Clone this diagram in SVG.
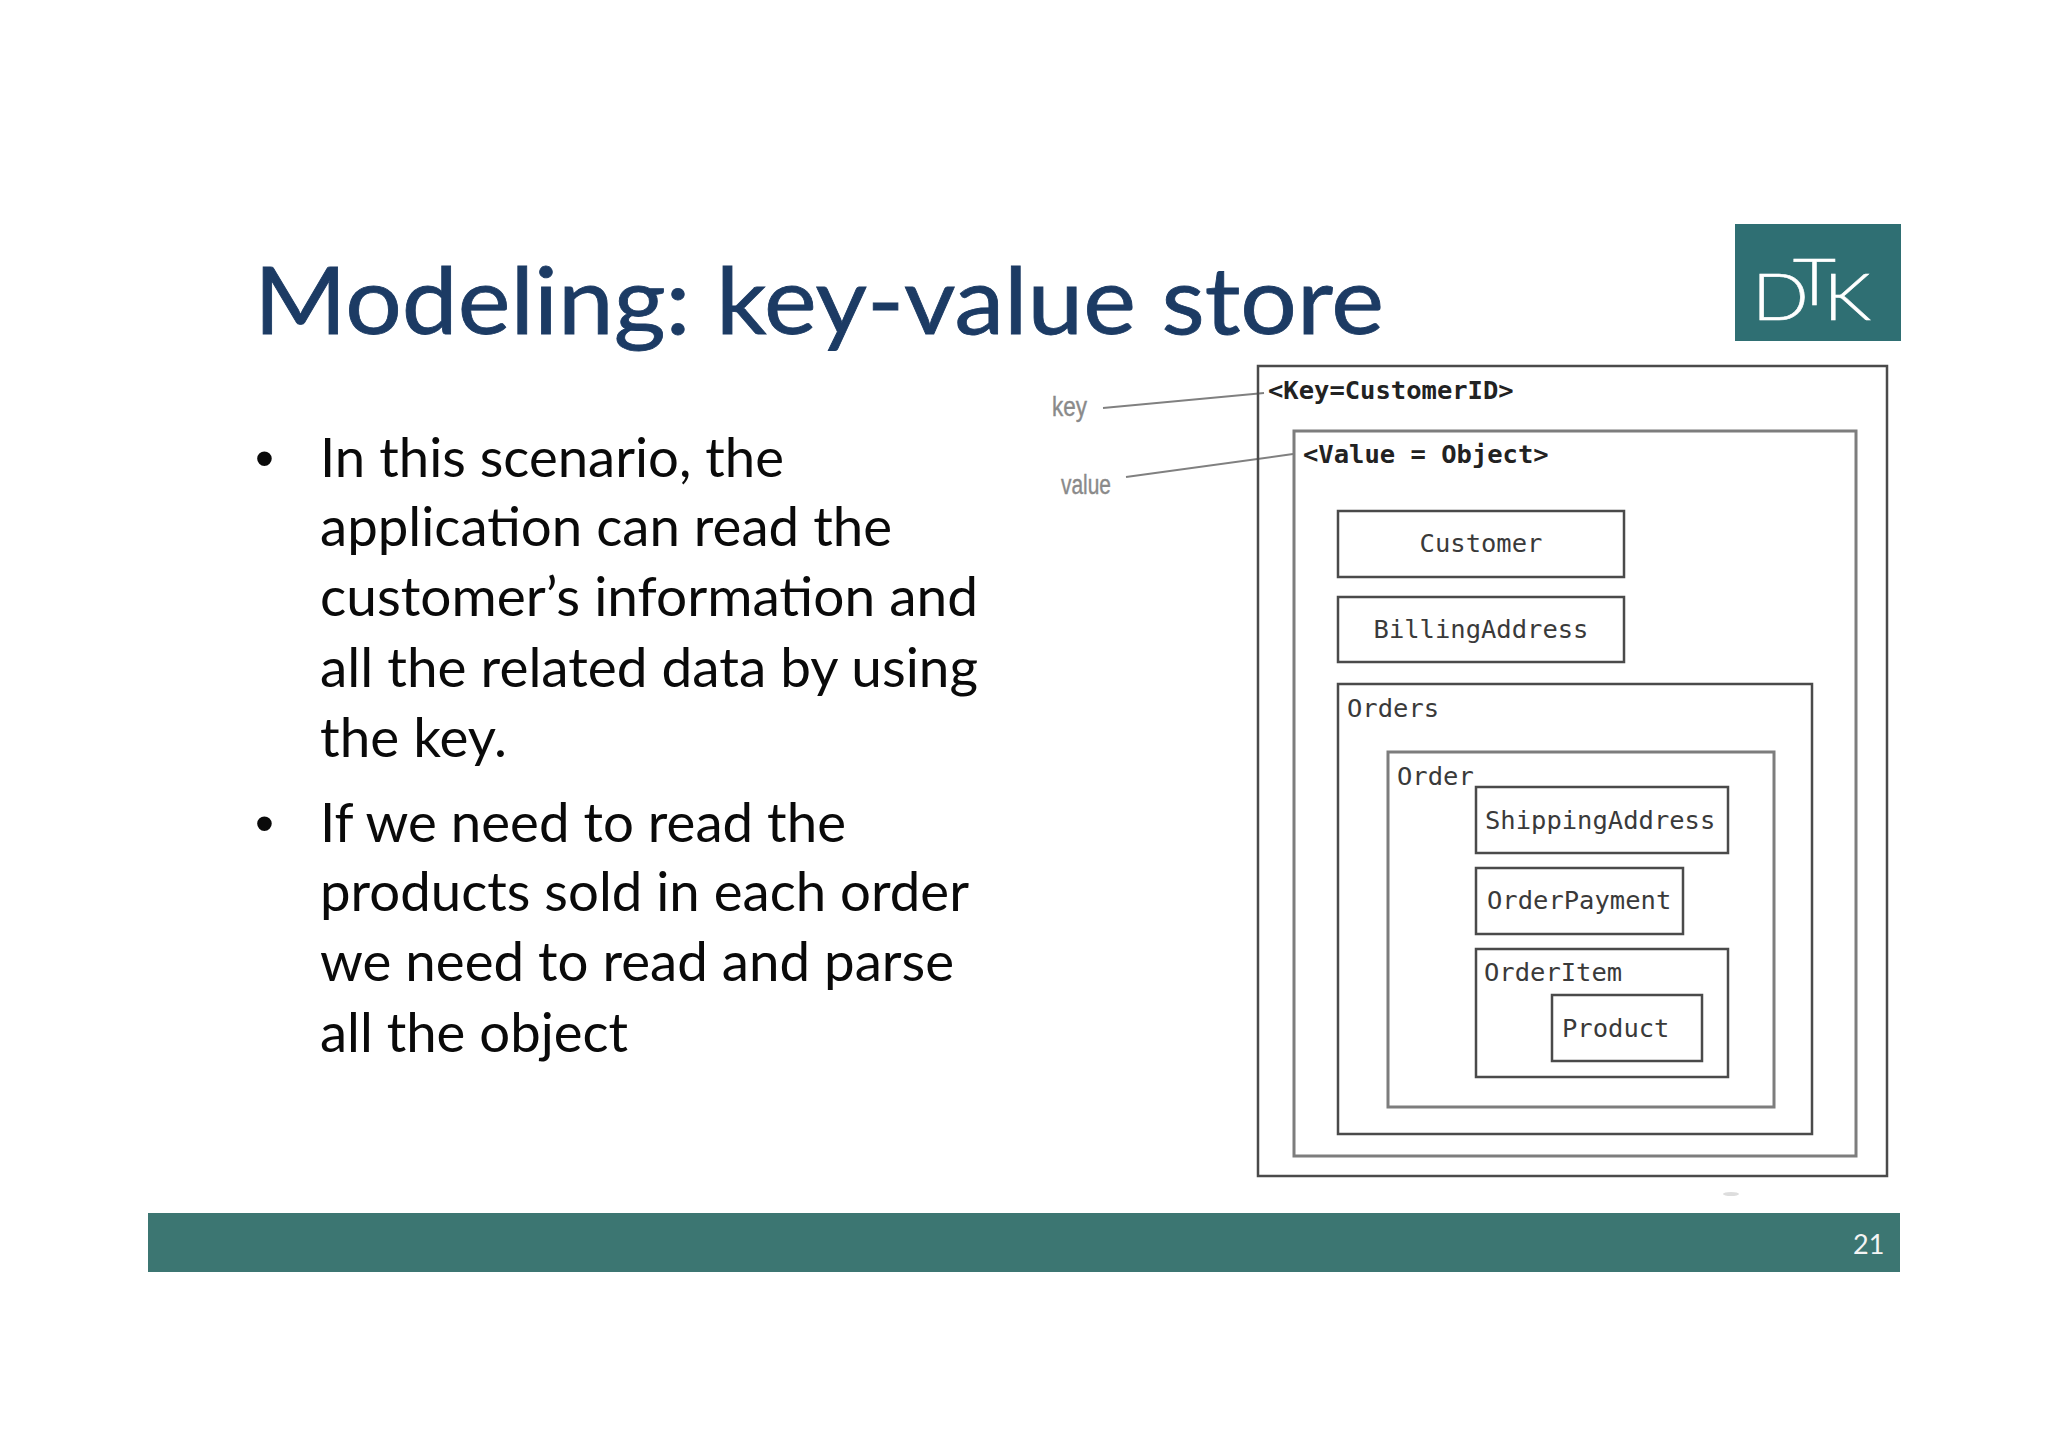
<svg xmlns="http://www.w3.org/2000/svg" width="2048" height="1447" viewBox="0 0 2048 1447">
<style>
.title{font-family:"Lato","Liberation Sans",sans-serif;font-size:93px;fill:#1c3b64;stroke:#1c3b64;stroke-width:.8}
.body{font-family:"Lato","Liberation Sans",sans-serif;font-size:54px;fill:#0a0a0a}
.bullet{font-family:"Liberation Sans",sans-serif;font-size:54px;fill:#0a0a0a}
.mono{font-family:"DejaVu Sans Mono","Liberation Mono",monospace;font-size:25.5px;fill:#3a3a3a}
.bold{font-weight:700;fill:#222}
.box{fill:none;stroke:#4a4a4a;stroke-width:2.5}
.soft{fill:none;stroke:#7d7d7d;stroke-width:3}
.lead{fill:none;stroke:#808080;stroke-width:2}
.note{font-family:"Liberation Sans",sans-serif;font-size:27px;fill:#8a8a8a;stroke:#8a8a8a;stroke-width:.4}
.logo{font-family:"Lato","Liberation Sans",sans-serif;font-weight:300;font-size:65px;fill:#fff;stroke:#fff;stroke-width:.5}
</style>
<rect width="2048" height="1447" fill="#fff"/>
<text id="title" class="title" x="254" y="334" textLength="1130" lengthAdjust="spacingAndGlyphs">Modeling: key-value store</text>
<g id="logo">
<rect x="1735" y="224" width="166" height="117" fill="#2f6f73"/>
<text class="logo" transform="scale(1.15 1)" x="1523.5 1559 1585.7" y="320 305 320">DTK</text>
</g>
<g id="bullets">
<text class="bullet" x="255" y="477">•</text>
<text class="body" x="320" y="477" textLength="464" lengthAdjust="spacingAndGlyphs">In this scenario, the</text>
<text class="body" x="320" y="546" textLength="572" lengthAdjust="spacingAndGlyphs">application can read the</text>
<text class="body" x="320" y="616" textLength="658" lengthAdjust="spacingAndGlyphs">customer’s information and</text>
<text class="body" x="320" y="687" textLength="658" lengthAdjust="spacingAndGlyphs">all the related data by using</text>
<text class="body" x="320" y="757" textLength="187" lengthAdjust="spacingAndGlyphs">the key.</text>
<text class="bullet" x="255" y="842">•</text>
<text class="body" x="320" y="842" textLength="526" lengthAdjust="spacingAndGlyphs">If we need to read the</text>
<text class="body" x="320" y="911" textLength="649" lengthAdjust="spacingAndGlyphs">products sold in each order</text>
<text class="body" x="320" y="981" textLength="634" lengthAdjust="spacingAndGlyphs">we need to read and parse</text>
<text class="body" x="320" y="1052" textLength="308" lengthAdjust="spacingAndGlyphs">all the object</text>
</g>
<g id="connectors">
<line class="lead" x1="1103" y1="408" x2="1264" y2="393"/>
<line class="lead" x1="1126" y1="477" x2="1293" y2="454"/>
</g>
<g id="key-label"><text class="note" x="1052" y="416" textLength="35" lengthAdjust="spacingAndGlyphs">key</text></g>
<g id="value-label"><text class="note" x="1061" y="494" textLength="50" lengthAdjust="spacingAndGlyphs">value</text></g>
<g id="key-box"><rect class="box" x="1258" y="366" width="629" height="810"/><text class="mono bold" x="1268" y="399">&lt;Key=CustomerID&gt;</text></g>
<g id="value-box"><rect class="soft" x="1294" y="431" width="562" height="725"/><text class="mono bold" x="1303" y="463">&lt;Value = Object&gt;</text></g>
<g id="customer"><rect class="box" x="1338" y="511" width="286" height="66"/><text class="mono" x="1481" y="552" text-anchor="middle">Customer</text></g>
<g id="billing-address"><rect class="box" x="1338" y="597" width="286" height="65"/><text class="mono" x="1481" y="638" text-anchor="middle">BillingAddress</text></g>
<g id="orders"><rect class="box" x="1338" y="684" width="474" height="450"/><text class="mono" x="1347" y="717">Orders</text></g>
<g id="order"><rect class="soft" x="1388" y="752" width="386" height="355"/><text class="mono" x="1397" y="785">Order</text></g>
<g id="shipping-address"><rect class="box" x="1476" y="787" width="252" height="66"/><text class="mono" x="1485" y="829">ShippingAddress</text></g>
<g id="order-payment"><rect class="box" x="1476" y="868" width="207" height="66"/><text class="mono" x="1487" y="909">OrderPayment</text></g>
<g id="order-item"><rect class="box" x="1476" y="949" width="252" height="128"/><text class="mono" x="1484" y="981">OrderItem</text></g>
<g id="product"><rect class="box" x="1552" y="995" width="150" height="66"/><text class="mono" x="1562" y="1037">Product</text></g>
<ellipse cx="1731" cy="1194" rx="8" ry="2" fill="#ddd"/>
<g id="footer">
<rect x="148" y="1213" width="1752" height="59" fill="#3c7672"/>
<text x="1853" y="1254" font-family="Lato,'Liberation Sans',sans-serif" font-size="27" fill="#f4f4f4">21</text>
</g>
</svg>
